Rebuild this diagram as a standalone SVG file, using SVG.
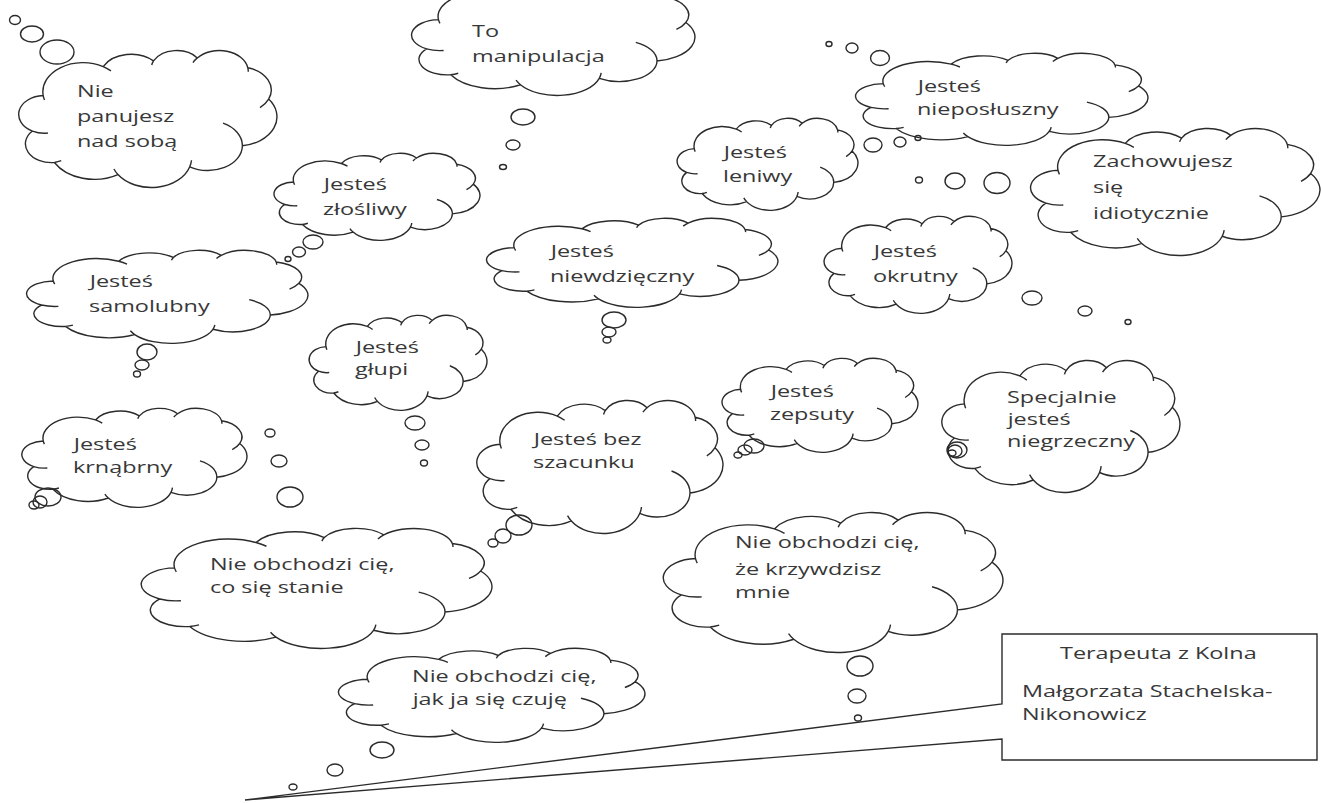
<svg xmlns="http://www.w3.org/2000/svg" xmlns:xlink="http://www.w3.org/1999/xlink" width="1321" height="803" viewBox="0 0 1321 803">
<style>
.c{fill:none;stroke:#2b2b2b;stroke-width:1.4;vector-effect:non-scaling-stroke}
.b{fill:none;stroke:#2b2b2b;stroke-width:1.4}
.t{font-family:"Open Sans","Liberation Sans",sans-serif;font-size:16.5px;fill:#383838;transform-box:fill-box;transform-origin:0 0;transform:scaleX(1.42)}
</style>
<defs>
<symbol id="cloud" viewBox="0 0 100 100" preserveAspectRatio="none" overflow="visible">
<path class="c" d="M9.03,33.26 A15.63,21.27 0 0 1 32.37,12.08 A12.34,16.82 0 0 1 51.94,7.98 A10.1,13.76 0 0 1 69.01,5.78 A11.24,15.27 0 0 1 88.64,12.94 A12.34,16.84 0 0 1 96.75,35.83 A15.68,21.34 0 0 1 86.53,69.94 A13.39,18.21 0 0 1 66.05,85.23 A15.63,21.33 0 0 1 38.1,90.91 A17.87,24.41 0 0 1 13.38,82.12 A10.09,13.7 0 0 1 4.83,59.15 A10.06,13.76 0 0 1 9.03,33.26 Z M10.86,60.59 A10.06,13.76 0 0 1 4.83,59.15 M16.04,80.78 A10.09,13.7 0 0 1 13.38,82.12 M38.1,90.91 A15.63,21.33 0 0 1 36.55,86.88 M66.73,80.44 A15.63,21.33 0 0 1 66.05,85.23 M79,53.4 A13.39,18.21 0 0 1 86.53,69.94 M96.75,35.83 A12.34,16.84 0 0 1 93.4,42.02 M88.64,12.94 A11.24,15.27 0 0 1 88.82,15.87 M67.31,9.15 A11.24,15.27 0 0 1 69.01,5.78 M51.25,10.93 A10.1,13.76 0 0 1 51.94,7.98 M32.37,12.08 A15.63,21.27 0 0 1 35.37,15.21 M9.55,36.55 A15.63,21.27 0 0 1 9.03,33.26"/>
</symbol>
</defs>
<rect width="1321" height="803" fill="#fff"/>

<g id="connectors">
<ellipse class="b" cx="15" cy="20" rx="5.5" ry="4.5"/><ellipse class="b" cx="32" cy="34" rx="11.5" ry="8"/><ellipse class="b" cx="57" cy="52" rx="17" ry="12"/>
<ellipse class="b" cx="523" cy="117" rx="12" ry="8"/><ellipse class="b" cx="513" cy="145" rx="7" ry="5"/><ellipse class="b" cx="503" cy="167" rx="3.5" ry="2.5"/>
<ellipse class="b" cx="829" cy="44" rx="3" ry="2.5"/><ellipse class="b" cx="852" cy="48" rx="6" ry="5"/><ellipse class="b" cx="880" cy="58" rx="9.5" ry="7.5"/>
<ellipse class="b" cx="873" cy="145" rx="9" ry="7"/><ellipse class="b" cx="900" cy="142" rx="6" ry="5"/><ellipse class="b" cx="918" cy="138" rx="3" ry="2.5"/>
<ellipse class="b" cx="919" cy="180" rx="3.5" ry="3"/><ellipse class="b" cx="955" cy="181" rx="10" ry="8"/><ellipse class="b" cx="997" cy="183" rx="13" ry="10.5"/>
<ellipse class="b" cx="313" cy="242" rx="10" ry="7"/><ellipse class="b" cx="299" cy="252" rx="6.5" ry="5"/><ellipse class="b" cx="288" cy="259" rx="3" ry="2.5"/>
<ellipse class="b" cx="147" cy="352" rx="10" ry="8"/><ellipse class="b" cx="142" cy="365" rx="7" ry="5"/><ellipse class="b" cx="137" cy="374" rx="3.5" ry="3"/>
<ellipse class="b" cx="48" cy="497" rx="13" ry="9"/><ellipse class="b" cx="40" cy="502" rx="7" ry="6"/><ellipse class="b" cx="34" cy="505" rx="5" ry="4"/>
<ellipse class="b" cx="270" cy="433" rx="5" ry="4"/><ellipse class="b" cx="279" cy="461" rx="8" ry="6"/><ellipse class="b" cx="290" cy="497" rx="13" ry="10"/>
<ellipse class="b" cx="415" cy="423" rx="10" ry="7"/><ellipse class="b" cx="422" cy="445" rx="7" ry="5"/><ellipse class="b" cx="424" cy="463" rx="3.5" ry="3"/>
<ellipse class="b" cx="614" cy="320" rx="12" ry="8"/><ellipse class="b" cx="609" cy="332" rx="7" ry="5"/><ellipse class="b" cx="607" cy="340" rx="4" ry="3"/>
<ellipse class="b" cx="519" cy="525" rx="13" ry="10"/><ellipse class="b" cx="503" cy="536" rx="8" ry="7"/><ellipse class="b" cx="493" cy="543" rx="5" ry="4"/>
<ellipse class="b" cx="754" cy="446" rx="10" ry="7"/><ellipse class="b" cx="745" cy="450" rx="7" ry="5"/><ellipse class="b" cx="738" cy="455" rx="4" ry="3"/>
<ellipse class="b" cx="957" cy="450" rx="10" ry="8"/><ellipse class="b" cx="955" cy="451" rx="7" ry="6"/><ellipse class="b" cx="952" cy="453" rx="4" ry="3"/>
<ellipse class="b" cx="1032" cy="298" rx="10" ry="7"/><ellipse class="b" cx="1085" cy="311" rx="7" ry="5"/><ellipse class="b" cx="1128" cy="322" rx="3" ry="2.5"/>
<ellipse class="b" cx="860" cy="666" rx="13" ry="10"/><ellipse class="b" cx="857" cy="696" rx="9" ry="7"/><ellipse class="b" cx="858" cy="718" rx="3.5" ry="3"/>
<ellipse class="b" cx="382" cy="750" rx="12" ry="8"/><ellipse class="b" cx="335" cy="770" rx="8" ry="6"/><ellipse class="b" cx="293" cy="787" rx="4" ry="3"/>
</g>

<g id="n-panujesz"><use href="#cloud" x="20" y="50" width="257" height="137"/>
<text class="t" x="77" y="97">Nie</text><text class="t" x="77" y="122">panujesz</text><text class="t" x="77" y="147">nad sobą</text></g>
<g id="n-manipulacja"><use href="#cloud" x="413" y="-18" width="282" height="113"/>
<text class="t" x="472" y="37">To</text><text class="t" x="472" y="62">manipulacja</text></g>
<g id="n-nieposluszny"><use href="#cloud" x="857" y="53" width="291" height="92"/>
<text class="t" x="917" y="92">Jesteś</text><text class="t" x="917" y="115">nieposłuszny</text></g>
<g id="n-zachowujesz"><use href="#cloud" x="1032" y="128" width="288" height="127"/>
<text class="t" x="1093" y="167">Zachowujesz</text><text class="t" x="1093" y="193">się</text><text class="t" x="1093" y="219">idiotycznie</text></g>
<g id="n-leniwy"><use href="#cloud" x="678" y="118" width="180" height="92"/>
<text class="t" x="723" y="158">Jesteś</text><text class="t" x="723" y="182">leniwy</text></g>
<g id="n-okrutny"><use href="#cloud" x="825" y="216" width="187" height="97"/>
<text class="t" x="873" y="257">Jesteś</text><text class="t" x="873" y="282">okrutny</text></g>
<g id="n-zlosliwy"><use href="#cloud" x="275" y="153" width="205" height="87"/>
<text class="t" x="323" y="190">Jesteś</text><text class="t" x="323" y="215">złośliwy</text></g>
<g id="n-samolubny"><use href="#cloud" x="28" y="250" width="280" height="93"/>
<text class="t" x="89" y="287">Jesteś</text><text class="t" x="89" y="312">samolubny</text></g>
<g id="n-krnabrny"><use href="#cloud" x="23" y="408" width="224" height="99"/>
<text class="t" x="73" y="450">Jesteś</text><text class="t" x="73" y="473">krnąbrny</text></g>
<g id="n-glupi"><use href="#cloud" x="310" y="315" width="177" height="95"/>
<text class="t" x="355" y="353">Jesteś</text><text class="t" x="355" y="375">głupi</text></g>
<g id="n-niewdzieczny"><use href="#cloud" x="488" y="218" width="290" height="89"/>
<text class="t" x="550" y="257">Jesteś</text><text class="t" x="550" y="282">niewdzięczny</text></g>
<g id="n-bez-szacunku"><use href="#cloud" x="478" y="400" width="245" height="133"/>
<text class="t" x="533" y="445">Jesteś bez</text><text class="t" x="533" y="468">szacunku</text></g>
<g id="n-zepsuty"><use href="#cloud" x="723" y="358" width="195" height="94"/>
<text class="t" x="770" y="397">Jesteś</text><text class="t" x="770" y="420">zepsuty</text></g>
<g id="n-specjalnie"><use href="#cloud" x="943" y="360" width="237" height="132"/>
<text class="t" x="1007" y="403">Specjalnie</text><text class="t" x="1007" y="425">jesteś</text><text class="t" x="1007" y="447">niegrzeczny</text></g>
<g id="n-co-sie-stanie"><use href="#cloud" x="143" y="528" width="349" height="120"/>
<text class="t" x="210" y="570">Nie obchodzi cię,</text><text class="t" x="210" y="593">co się stanie</text></g>
<g id="n-krzywdzisz"><use href="#cloud" x="665" y="512" width="338" height="140"/>
<text class="t" x="735" y="548">Nie obchodzi cię,</text><text class="t" x="735" y="575">że krzywdzisz</text><text class="t" x="735" y="598">mnie</text></g>
<g id="n-czuje"><use href="#cloud" x="340" y="648" width="305" height="94"/>
<text class="t" x="412" y="682">Nie obchodzi cię,</text><text class="t" x="412" y="705">jak ja się czuję</text></g>
<g id="n-terapeuta">
<path class="b" d="M1002,704 V634 H1317 V760 H1002 V739 L245,800 Z"/>
<text class="t" x="1060" y="659">Terapeuta z Kolna</text><text class="t" x="1022" y="697">Małgorzata Stachelska-</text><text class="t" x="1022" y="720">Nikonowicz</text></g>
</svg>
